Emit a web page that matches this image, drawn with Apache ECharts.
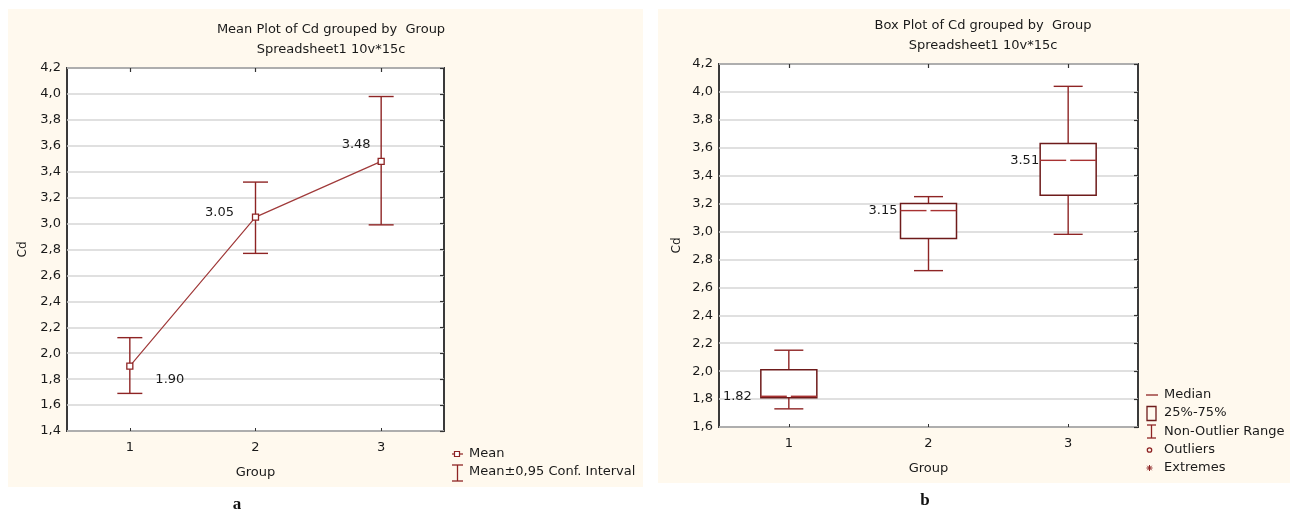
<!DOCTYPE html>
<html>
<head>
<meta charset="utf-8">
<script src="https://cdn.jsdelivr.net/npm/echarts@6/dist/echarts.min.js"></script>
<style>
html,body{margin:0;padding:0;background:#fff;}
#chart{width:1290px;height:510px;}
</style>
</head>
<body>
<div id="chart"></div>
<script>
// ---- data ----
const categories = ['1', '2', '3'];
// Mean plot (panel a)
const meanValues = [1.90, 3.05, 3.48];
const ciLower = [1.69, 2.77, 2.99];
const ciUpper = [2.12, 3.32, 3.98];
// Box plot (panel b)
const boxMin = [1.73, 2.72, 2.98];
const boxQ1 = [1.81, 2.95, 3.26];
const boxMedian = [1.82, 3.15, 3.51];
const boxQ3 = [2.01, 3.20, 3.63];
const boxMax = [2.15, 3.25, 4.04];
const leftAxisRange = [1.4, 4.2];
const rightAxisRange = [1.6, 4.2];

// ---- styles ----
const FONT = 'DejaVu Sans';
const TXT = '#1a1a1a';
const RED = '#8e2424';
const BOXRED = '#6e1b1b';
const CREAM = '#fff9ee';
const GRIDLINE = '#d6d6d6';
const meanLabelOffsets = [[40, 13], [-36, -4], [-25, -17]];
const boxLabelGaps = [9, 3, 1];

const fmt = v => v.toFixed(1).replace('.', ',');

function axesFor(gridIndex, range) {
  const y = [{
    type: 'value', gridIndex, min: range[0], max: range[1], interval: 0.2,
    axisLine: {show: false}, axisTick: {show: false},
    axisLabel: {formatter: fmt, fontFamily: FONT, fontSize: 13, color: TXT, margin: 6},
    splitLine: {show: true, lineStyle: {color: GRIDLINE, width: 1.5}},
    name: 'Cd', nameLocation: 'middle', nameRotate: 90, nameGap: 38,
    nameTextStyle: {fontFamily: FONT, fontSize: 12, color: TXT}
  }, {
    type: 'value', gridIndex, position: 'right', min: range[0], max: range[1], interval: 0.2,
    axisLine: {show: false}, axisLabel: {show: false}, splitLine: {show: false},
    axisTick: {show: true, inside: true, length: 4, lineStyle: {color: '#333', width: 1.2}}
  }];
  const x = [{
    type: 'category', gridIndex, data: categories, boundaryGap: true,
    axisLine: {show: false},
    axisTick: {show: true, inside: true, length: 3, alignWithLabel: true, lineStyle: {color: '#333'}},
    axisLabel: {fontFamily: FONT, fontSize: 13, color: TXT, margin: 10},
    name: 'Group', nameLocation: 'middle', nameGap: 35,
    nameTextStyle: {fontFamily: FONT, fontSize: 13, color: TXT}
  }, {
    type: 'category', gridIndex, data: categories, position: 'top', boundaryGap: true,
    axisLine: {show: false}, axisLabel: {show: false},
    axisTick: {show: true, inside: true, length: 4, alignWithLabel: true, lineStyle: {color: '#333', width: 1.2}}
  }];
  return {x, y};
}

const A = axesFor(0, leftAxisRange);
const B = axesFor(1, rightAxisRange);
B.y[0].nameGap = 36;

const titleStyle = {fontFamily: FONT, fontSize: 13, fontWeight: 'normal', color: TXT};

const option = {
  backgroundColor: '#ffffff',
  animation: false,
  title: [
    {text: 'Mean Plot of Cd grouped by  Group', subtext: 'Spreadsheet1 10v*15c',
     left: 326, top: 18, textAlign: 'center', itemGap: 7,
     textStyle: titleStyle, subtextStyle: titleStyle},
    {text: 'Box Plot of Cd grouped by  Group', subtext: 'Spreadsheet1 10v*15c',
     left: 978, top: 14, textAlign: 'center', itemGap: 7,
     textStyle: titleStyle, subtextStyle: titleStyle}
  ],
  grid: [
    {left: 67, top: 68, width: 377, height: 363, show: true, backgroundColor: '#fff',
     borderColor: '#3a3a3a', borderWidth: 2, containLabel: false},
    {left: 719, top: 64, width: 419, height: 363, show: true, backgroundColor: '#fff',
     borderColor: '#3a3a3a', borderWidth: 2, containLabel: false}
  ],
  xAxis: [A.x[0], A.x[1], B.x[0], B.x[1]],
  yAxis: [A.y[0], A.y[1], B.y[0], B.y[1]],
  graphic: {
    elements: [
      {type: 'rect', z: -100, shape: {x: 8, y: 9, width: 635, height: 478}, style: {fill: CREAM}, silent: true},
      {type: 'rect', z: -100, shape: {x: 658, y: 9, width: 632, height: 474}, style: {fill: CREAM}, silent: true},
      // legend panel a
      {type: 'line', shape: {x1: 452, y1: 454, x2: 463, y2: 454}, style: {stroke: RED, lineWidth: 1.2}},
      {type: 'rect', shape: {x: 454.5, y: 451.5, width: 5, height: 5}, style: {fill: '#fff', stroke: RED, lineWidth: 1.2}},
      {type: 'text', style: {text: 'Mean', x: 469, y: 454, verticalAlign: 'middle', fontFamily: FONT, fontSize: 13, fill: TXT}},
      {type: 'line', shape: {x1: 457.5, y1: 465, x2: 457.5, y2: 481}, style: {stroke: RED, lineWidth: 1.3}},
      {type: 'line', shape: {x1: 452, y1: 465, x2: 463, y2: 465}, style: {stroke: RED, lineWidth: 1.3}},
      {type: 'line', shape: {x1: 452, y1: 481, x2: 463, y2: 481}, style: {stroke: RED, lineWidth: 1.3}},
      {type: 'text', style: {text: 'Mean\u00b10,95 Conf. Interval', x: 469, y: 472, verticalAlign: 'middle', fontFamily: FONT, fontSize: 13, fill: TXT}},
      // legend panel b
      {type: 'line', shape: {x1: 1146, y1: 395, x2: 1158, y2: 395}, style: {stroke: RED, lineWidth: 1.3}},
      {type: 'text', style: {text: 'Median', x: 1164, y: 395, verticalAlign: 'middle', fontFamily: FONT, fontSize: 13, fill: TXT}},
      {type: 'rect', shape: {x: 1147, y: 406.5, width: 9, height: 14}, style: {fill: 'none', stroke: BOXRED, lineWidth: 1.3}},
      {type: 'text', style: {text: '25%-75%', x: 1164, y: 413, verticalAlign: 'middle', fontFamily: FONT, fontSize: 13, fill: TXT}},
      {type: 'line', shape: {x1: 1151.5, y1: 425, x2: 1151.5, y2: 438}, style: {stroke: RED, lineWidth: 1.3}},
      {type: 'line', shape: {x1: 1147, y1: 425, x2: 1156, y2: 425}, style: {stroke: RED, lineWidth: 1.3}},
      {type: 'line', shape: {x1: 1147, y1: 438, x2: 1156, y2: 438}, style: {stroke: RED, lineWidth: 1.3}},
      {type: 'text', style: {text: 'Non-Outlier Range', x: 1164, y: 432, verticalAlign: 'middle', fontFamily: FONT, fontSize: 13, fill: TXT}},
      {type: 'circle', shape: {cx: 1149.5, cy: 450, r: 2.2}, style: {fill: 'none', stroke: RED, lineWidth: 1.3}},
      {type: 'text', style: {text: 'Outliers', x: 1164, y: 450, verticalAlign: 'middle', fontFamily: FONT, fontSize: 13, fill: TXT}},
      {type: 'line', shape: {x1: 1146.5, y1: 468, x2: 1152.5, y2: 468}, style: {stroke: RED, lineWidth: 1}},
      {type: 'line', shape: {x1: 1149.5, y1: 465, x2: 1149.5, y2: 471}, style: {stroke: RED, lineWidth: 1}},
      {type: 'line', shape: {x1: 1147.3, y1: 465.8, x2: 1151.7, y2: 470.2}, style: {stroke: RED, lineWidth: 1}},
      {type: 'line', shape: {x1: 1147.3, y1: 470.2, x2: 1151.7, y2: 465.8}, style: {stroke: RED, lineWidth: 1}},
      {type: 'text', style: {text: 'Extremes', x: 1164, y: 468, verticalAlign: 'middle', fontFamily: FONT, fontSize: 13, fill: TXT}},
      // panel letters
      {type: 'text', style: {text: 'a', x: 237, y: 496, align: 'center', fontFamily: 'Liberation Serif', fontWeight: 'bold', fontSize: 17, fill: '#111'}},
      {type: 'text', style: {text: 'b', x: 925, y: 492, align: 'center', fontFamily: 'Liberation Serif', fontWeight: 'bold', fontSize: 17, fill: '#111'}}
    ]
  },
  series: [
    {
      type: 'custom', name: 'Mean\u00b10,95 Conf. Interval', xAxisIndex: 0, yAxisIndex: 0,
      data: categories.map((c, i) => [i, ciLower[i], ciUpper[i]]),
      encode: {x: 0, y: [1, 2]},
      renderItem: function (params, api) {
        const lo = api.coord([api.value(0), api.value(1)]);
        const hi = api.coord([api.value(0), api.value(2)]);
        const hw = 12.5;
        const st = {stroke: RED, lineWidth: 1.4, fill: 'none'};
        return {type: 'group', children: [
          {type: 'line', shape: {x1: lo[0], y1: lo[1], x2: hi[0], y2: hi[1]}, style: st},
          {type: 'line', shape: {x1: lo[0] - hw, y1: lo[1], x2: lo[0] + hw, y2: lo[1]}, style: st},
          {type: 'line', shape: {x1: hi[0] - hw, y1: hi[1], x2: hi[0] + hw, y2: hi[1]}, style: st}
        ]};
      },
      z: 2
    },
    {
      type: 'line', name: 'Mean', xAxisIndex: 0, yAxisIndex: 0,
      data: meanValues.map((v, i) => ({
        value: v,
        label: {show: true, position: 'inside', offset: meanLabelOffsets[i]}
      })),
      symbol: 'rect', symbolSize: 6, showAllSymbol: true,
      itemStyle: {color: '#fff', borderColor: RED, borderWidth: 1.3},
      lineStyle: {color: '#a03a3a', width: 1.2},
      label: {formatter: p => p.value.toFixed(2), fontFamily: FONT, fontSize: 13, color: TXT},
      z: 3
    },
    {
      type: 'custom', name: 'Box', xAxisIndex: 2, yAxisIndex: 2,
      data: categories.map((c, i) => [i, boxMin[i], boxQ1[i], boxMedian[i], boxQ3[i], boxMax[i]]),
      encode: {x: 0, y: [1, 5]},
      renderItem: function (params, api) {
        const i = api.value(0);
        const pMin = api.coord([i, api.value(1)]);
        const pQ1 = api.coord([i, api.value(2)]);
        const pMed = api.coord([i, api.value(3)]);
        const pQ3 = api.coord([i, api.value(4)]);
        const pMax = api.coord([i, api.value(5)]);
        const cx = pMed[0];
        const bw = 28, cw = 14.5;
        const ws = {stroke: RED, lineWidth: 1.4};
        return {type: 'group', children: [
          {type: 'line', shape: {x1: cx, y1: pMax[1], x2: cx, y2: pQ3[1]}, style: ws},
          {type: 'line', shape: {x1: cx - cw, y1: pMax[1], x2: cx + cw, y2: pMax[1]}, style: ws},
          {type: 'line', shape: {x1: cx, y1: pQ1[1], x2: cx, y2: pMin[1]}, style: ws},
          {type: 'line', shape: {x1: cx - cw, y1: pMin[1], x2: cx + cw, y2: pMin[1]}, style: ws},
          {type: 'rect', shape: {x: cx - bw, y: pQ3[1], width: 2 * bw, height: pQ1[1] - pQ3[1]},
           style: {fill: '#fff', stroke: BOXRED, lineWidth: 1.5}},
          {type: 'line', shape: {x1: cx - bw, y1: pMed[1], x2: cx - 2, y2: pMed[1]}, style: {stroke: '#a83232', lineWidth: 1.4}},
          {type: 'line', shape: {x1: cx + 2, y1: pMed[1], x2: cx + bw, y2: pMed[1]}, style: {stroke: '#a83232', lineWidth: 1.4}},
          {type: 'text', style: {text: api.value(3).toFixed(2), x: cx - bw - boxLabelGaps[params.dataIndex], y: pMed[1],
            align: 'right', verticalAlign: 'middle', fontFamily: FONT, fontSize: 13, fill: TXT}}
        ]};
      }
    }
  ]
};

const chart = echarts.init(document.getElementById('chart'), null, {renderer: 'canvas'});
chart.setOption(option);
</script>
</body>
</html>
